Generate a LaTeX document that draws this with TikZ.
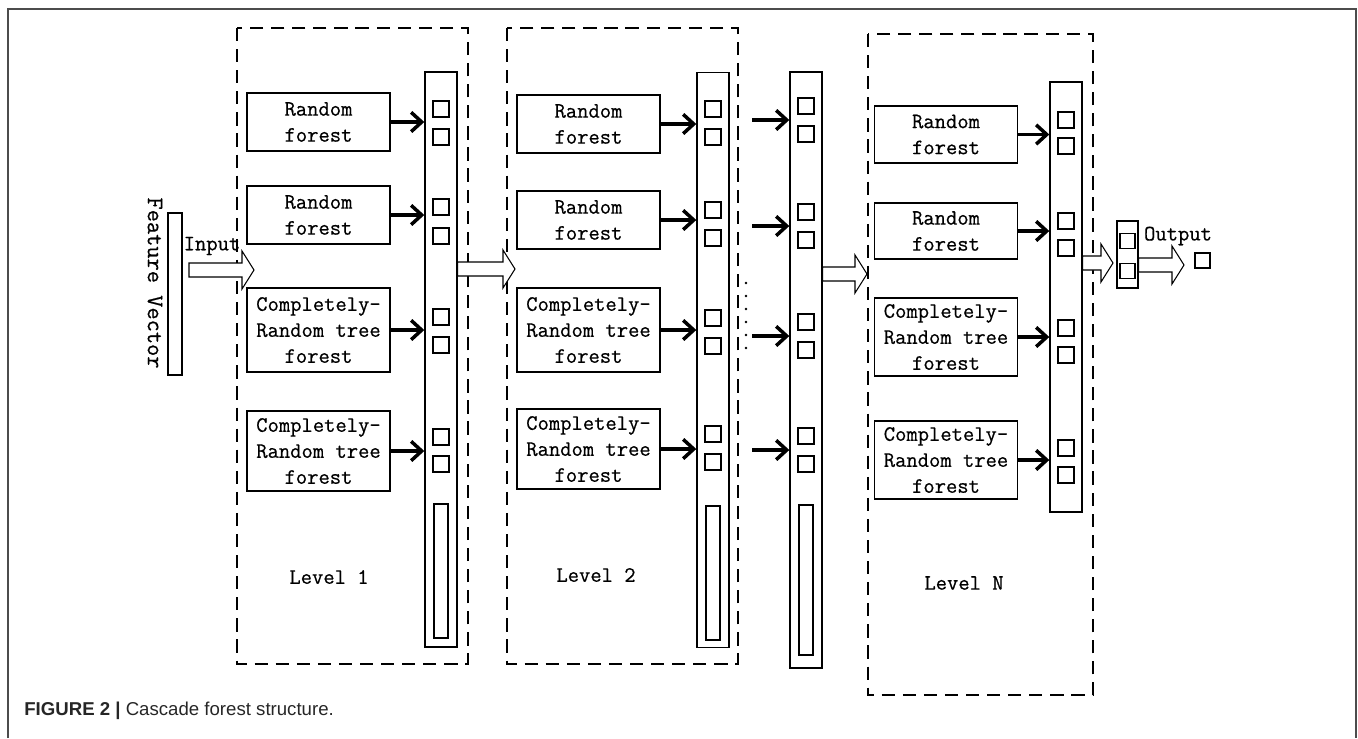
\documentclass[tikz,border=0pt]{standalone}
\usepackage{fontspec}
\newfontfamily\capfont{Liberation Sans}
\newfontfamily\diafont[FakeBold=0.6]{Latin Modern Mono}
\usepackage{tikz}
\usetikzlibrary{arrows.meta, calc}
\newcommand{\pxu}{0.02cm}
\newcommand{\fatarrow}[2]{%
  \draw[fat] ($(#1)+(0,-7)$) -- ($(#2)+(-12,-7)$) -- ($(#2)+(-12,-19)$) -- (#2)
    -- ($(#2)+(-12,19)$) -- ($(#2)+(-12,7)$) -- ($(#1)+(0,7)$) -- cycle;}

\begin{document}
\begin{tikzpicture}[x=0.02cm, y=-0.02cm,
    dbox/.style={draw, dash pattern=on 7.5pt off 4.5pt, line width=0.8pt},
    rfbox/.style={draw, line width=0.8pt, minimum width=143*\pxu, align=center,
        inner sep=0pt, font=\fontsize{12.5}{14.8}\selectfont\diafont},
    column/.style={draw, line width=0.8pt, minimum width=32*\pxu, inner sep=0pt},
    cell/.style={draw, line width=0.6pt, minimum size=16*\pxu, inner sep=0pt},
    slot/.style={draw, line width=0.6pt, minimum width=14*\pxu, inner sep=0pt},
    feed/.style={-{Straight Barb[length=6pt,width=11pt]}, line width=2pt},
    fat/.style={draw, line width=0.6pt, fill=white},
    lvltext/.style={font=\fontsize{12.5}{14.8}\selectfont\diafont}]
    \useasboundingbox (0,0) rectangle (1358,738);
    % --- outer frame ---
    \draw[gray!60!black, line width=1.1pt] (8,738) -- (8,9) -- (1356,9) -- (1356,738);

    % --- feature vector ---
    \node[draw, line width=0.8pt, minimum width=14*\pxu, minimum height=162*\pxu, inner sep=0pt]
        (fv) at (175,294) {};
    \node[lvltext, rotate=-90, font=\fontsize{13.5}{15}\selectfont\diafont] (fvtext) at (155,283) {Feature Vector};
    \node[lvltext] (intext) at (212,246) {Input};

    % --- level 1 ---
    \draw[dbox] (237,28) rectangle (468,664);
    \node[rfbox, minimum height=58*\pxu] (l1a) at (318.5,122) {Random\\forest};
    \node[rfbox, minimum height=58*\pxu] (l1b) at (318.5,215) {Random\\forest};
    \node[rfbox, minimum height=84*\pxu] (l1c) at (318.5,330) {Completely-\\Random tree\\forest};
    \node[rfbox, minimum height=80*\pxu] (l1d) at (318.5,451) {Completely-\\Random tree\\forest};
    \node[column, minimum height=575*\pxu] (l1col) at (441,359.5) {};
    \node[cell] (l1s1) at (441,109) {}; \node[cell] (l1s2) at (441,137) {};
    \node[cell] (l1s3) at (441,207) {}; \node[cell] (l1s4) at (441,236) {};
    \node[cell] (l1s5) at (441,317) {}; \node[cell] (l1s6) at (441,345) {};
    \node[cell] (l1s7) at (441,437) {}; \node[cell] (l1s8) at (441,464) {};
    \node[slot, minimum height=134*\pxu] (l1slot) at (441,571) {};
    \draw[feed] (l1a.east) -- (l1a.east -| l1col.west);
    \draw[feed] (l1b.east) -- (l1b.east -| l1col.west);
    \draw[feed] (l1c.east) -- (l1c.east -| l1col.west);
    \draw[feed] (l1d.east) -- (l1d.east -| l1col.west);
    \node[lvltext] (l1name) at (329,577) {Level 1};

    % --- level 2 ---
    \draw[dbox] (507,28) rectangle (738,664);
    \node[rfbox, minimum height=58*\pxu] (l2a) at (588.5,124) {Random\\forest};
    \node[rfbox, minimum height=58*\pxu] (l2b) at (588.5,220) {Random\\forest};
    \node[rfbox, minimum height=84*\pxu] (l2c) at (588.5,330) {Completely-\\Random tree\\forest};
    \node[rfbox, minimum height=80*\pxu] (l2d) at (588.5,449) {Completely-\\Random tree\\forest};
    \node[column, minimum height=575*\pxu] (l2col) at (713,360) {};
    \node[cell] (l2s1) at (713,109) {}; \node[cell] (l2s2) at (713,137) {};
    \node[cell] (l2s3) at (713,210) {}; \node[cell] (l2s4) at (713,238) {};
    \node[cell] (l2s5) at (713,318) {}; \node[cell] (l2s6) at (713,346) {};
    \node[cell] (l2s7) at (713,434) {}; \node[cell] (l2s8) at (713,462) {};
    \node[slot, minimum height=134*\pxu] (l2slot) at (713,573) {};
    \draw[feed] (l2a.east) -- (l2a.east -| l2col.west);
    \draw[feed] (l2b.east) -- (l2b.east -| l2col.west);
    \draw[feed] (l2c.east) -- (l2c.east -| l2col.west);
    \draw[feed] (l2d.east) -- (l2d.east -| l2col.west);
    \node[lvltext] (l2name) at (596,575) {Level 2};

    % --- intermediate column ---
    \node[column, minimum height=596*\pxu] (mcol) at (806,370) {};
    \node[cell] (ms1) at (806,106) {}; \node[cell] (ms2) at (806,134) {};
    \node[cell] (ms3) at (806,212) {}; \node[cell] (ms4) at (806,240) {};
    \node[cell] (ms5) at (806,322) {}; \node[cell] (ms6) at (806,350) {};
    \node[cell] (ms7) at (806,436) {}; \node[cell] (ms8) at (806,464) {};
    \node[slot, minimum height=150*\pxu] (mslot) at (806,580) {};
    \coordinate (m1) at (752,120); \coordinate (m2) at (752,226);
    \coordinate (m3) at (752,336); \coordinate (m4) at (752,450);
    \draw[feed] (m1) -- (m1 -| mcol.west);
    \draw[feed] (m2) -- (m2 -| mcol.west);
    \draw[feed] (m3) -- (m3 -| mcol.west);
    \draw[feed] (m4) -- (m4 -| mcol.west);
    \draw[line width=1.6pt, line cap=round, dash pattern=on 0pt off 7.4pt] (746,283) -- (746,350);

    % --- level N ---
    \draw[dbox] (868,34) rectangle (1093,695);
    \node[rfbox, minimum height=57*\pxu] (lna) at (946,134.5) {Random\\forest};
    \node[rfbox, minimum height=56*\pxu] (lnb) at (946,231) {Random\\forest};
    \node[rfbox, minimum height=78*\pxu] (lnc) at (946,337) {Completely-\\Random tree\\forest};
    \node[rfbox, minimum height=78*\pxu] (lnd) at (946,460) {Completely-\\Random tree\\forest};
    \node[column, minimum height=430*\pxu] (lncol) at (1066,297) {};
    \node[cell] (lns1) at (1066,120) {}; \node[cell] (lns2) at (1066,146) {};
    \node[cell] (lns3) at (1066,221) {}; \node[cell] (lns4) at (1066,248) {};
    \node[cell] (lns5) at (1066,328) {}; \node[cell] (lns6) at (1066,355) {};
    \node[cell] (lns7) at (1066,448) {}; \node[cell] (lns8) at (1066,475) {};
    \draw[feed] (lna.east) -- (lna.east -| lncol.west);
    \draw[feed] (lnb.east) -- (lnb.east -| lncol.west);
    \draw[feed] (lnc.east) -- (lnc.east -| lncol.west);
    \draw[feed] (lnd.east) -- (lnd.east -| lncol.west);
    \node[lvltext] (lnname) at (964,583) {Level N};

    % --- hollow arrows between stages ---
    \coordinate (in0) at (189,270);            \coordinate (in1) at (254,270);
    \coordinate (p0) at (l1col.east |- 0,269); \coordinate (p1) at (515,269);
    \coordinate (q0) at (mcol.east |- 0,274);  \coordinate (q1) at (867,274);
    \coordinate (r0) at (lncol.east |- 0,263); \coordinate (r1) at (1113,263);
    \fatarrow{in0}{in1}
    \fatarrow{p0}{p1}
    \fatarrow{q0}{q1}
    \fatarrow{r0}{r1}

    % --- output ---
    \node[column, minimum width=21*\pxu, minimum height=67*\pxu] (ocol) at (1127.5,254.5) {};
    \node[cell, minimum size=15*\pxu] (os1) at (1127.5,241) {};
    \node[cell, minimum size=15*\pxu] (os2) at (1127.5,271) {};
    \node[cell, minimum size=15*\pxu] (oout) at (1202.5,260.5) {};
    \coordinate (o0) at (ocol.east |- 0,265); \coordinate (o1) at (1184,265);
    \fatarrow{o0}{o1}
    \node[lvltext] (outtext) at (1178,236) {Output};

    % --- caption ---
    \node[anchor=west, inner sep=0pt, text=black!85, font=\capfont\fontsize{10.6}{12}\selectfont]
        (cap) at (24,711) {\textbf{FIGURE 2 |} Cascade forest structure.};
\end{tikzpicture}
\end{document}
